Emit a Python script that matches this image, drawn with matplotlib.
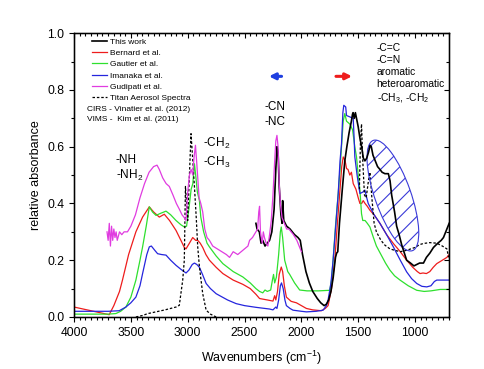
import numpy as np
import matplotlib
matplotlib.use("Agg")
import matplotlib.pyplot as plt
from matplotlib.patches import Ellipse
from matplotlib.transforms import ScaledTranslation
from matplotlib.ticker import MultipleLocator

plt.rcParams['font.family'] = ['Liberation Sans', 'DejaVu Sans']
plt.rcParams['mathtext.fontset'] = 'custom'
plt.rcParams['mathtext.rm'] = 'Liberation Sans'
plt.rcParams['mathtext.it'] = 'Liberation Sans:italic'
plt.rcParams['hatch.color'] = '#3a3ad8'
plt.rcParams['hatch.linewidth'] = 0.8

# ---- data (wavenumber, relative absorbance) ----
this_wn = [2400, 2390, 2370, 2355, 2340, 2320, 2300, 2280, 2260, 2240, 2225, 2215, 2205,
           2195, 2180, 2170, 2165, 2155, 2130, 2100, 2060, 2030, 2010, 1990, 1960, 1930,
           1900, 1860, 1830, 1800, 1780, 1760, 1740, 1720, 1700, 1690, 1680, 1665, 1640,
           1618, 1600, 1580, 1560, 1550, 1545, 1535, 1525, 1515, 1500, 1485, 1470, 1455,
           1441, 1425, 1410, 1395, 1385, 1370, 1350, 1330, 1309, 1290, 1265, 1235, 1220,
           1206, 1180, 1162, 1140, 1118, 1090, 1074, 1040, 1010, 985, 960, 926, 900, 870,
           838, 800, 770, 750, 730, 710, 700]
this_ab = [0.33, 0.31, 0.30, 0.26, 0.27, 0.25, 0.26, 0.27, 0.30, 0.38, 0.52, 0.60, 0.58,
           0.46, 0.36, 0.33, 0.41, 0.34, 0.32, 0.31, 0.29, 0.28, 0.27, 0.22, 0.16, 0.12,
           0.09, 0.065, 0.05, 0.04, 0.045, 0.06, 0.09, 0.14, 0.21, 0.225, 0.23, 0.33, 0.45,
           0.55, 0.60, 0.65, 0.69, 0.715, 0.72, 0.70, 0.72, 0.70, 0.67, 0.63, 0.60, 0.56,
           0.55, 0.56, 0.58, 0.605, 0.60, 0.57, 0.55, 0.53, 0.52, 0.51, 0.505, 0.505, 0.48,
           0.43, 0.37, 0.32, 0.29, 0.255, 0.22, 0.20, 0.19, 0.18, 0.185, 0.19, 0.19, 0.21, 0.225,
           0.245, 0.26, 0.27, 0.28, 0.30, 0.32, 0.33]

bernard_wn = [4000, 3691, 3650, 3600, 3574, 3520, 3456, 3397, 3338, 3300, 3250, 3206, 3160,
              3103, 3060, 3030, 3015, 2985, 2956, 2930, 2912, 2890, 2868, 2840, 2809, 2750,
              2691, 2600, 2515, 2450, 2400, 2368, 2300, 2250, 2235, 2225, 2210, 2195, 2177,
              2165, 2150, 2132, 2090, 2044, 2000, 1956, 1900, 1824, 1790, 1765, 1735, 1706,
              1685, 1662, 1645, 1632, 1615, 1603, 1590, 1574, 1560, 1544, 1520, 1500, 1485,
              1470, 1456, 1440, 1420, 1397, 1360, 1309, 1250, 1191, 1130, 1074, 1020, 980,
              956, 930, 900, 870, 840, 809, 760, 720, 700]
bernard_ab = [0.035, 0.008, 0.04, 0.09, 0.13, 0.22, 0.30, 0.352, 0.388, 0.37, 0.352, 0.362, 0.34,
              0.305, 0.27, 0.245, 0.24, 0.26, 0.28, 0.27, 0.27, 0.26, 0.245, 0.22, 0.20, 0.175,
              0.153, 0.13, 0.115, 0.10, 0.08, 0.065, 0.06, 0.056, 0.075, 0.06, 0.09, 0.15, 0.176,
              0.16, 0.11, 0.07, 0.055, 0.05, 0.04, 0.03, 0.025, 0.022, 0.03, 0.04, 0.10, 0.20,
              0.32, 0.44, 0.53, 0.564, 0.55, 0.523, 0.52, 0.50, 0.51, 0.47, 0.45, 0.42, 0.40,
              0.40, 0.41, 0.40, 0.39, 0.376, 0.36, 0.33, 0.29, 0.259, 0.23, 0.20, 0.175, 0.16,
              0.153, 0.155, 0.153, 0.16, 0.175, 0.188, 0.20, 0.21, 0.22]

gautier_wn = [4000, 3700, 3632, 3590, 3544, 3500, 3456, 3420, 3397, 3365, 3338, 3310, 3279,
              3240, 3191, 3150, 3103, 3060, 3029, 3010, 2990, 2970, 2955, 2941, 2930, 2915,
              2897, 2885, 2860, 2830, 2809, 2750, 2691, 2600, 2515, 2450, 2400, 2368, 2340,
              2320, 2300, 2270, 2255, 2245, 2235, 2220, 2200, 2185, 2177, 2165, 2147, 2120,
              2103, 2060, 2015, 1950, 1850, 1750, 1735, 1721, 1700, 1676, 1660, 1647, 1632,
              1618, 1603, 1574, 1550, 1530, 1515, 1500, 1485, 1471, 1460, 1440, 1420, 1397,
              1368, 1340, 1300, 1260, 1221, 1180, 1132, 1060, 985, 920, 860, 779, 700]
gautier_ab = [0.01, 0.01, 0.012, 0.02, 0.035, 0.07, 0.13, 0.20, 0.247, 0.32, 0.388, 0.37, 0.358,
              0.365, 0.373, 0.36, 0.34, 0.325, 0.317, 0.32, 0.38, 0.45, 0.47, 0.54, 0.50, 0.44,
              0.41, 0.352, 0.30, 0.26, 0.247, 0.215, 0.188, 0.16, 0.141, 0.12, 0.10, 0.09, 0.085,
              0.095, 0.09, 0.095, 0.13, 0.15, 0.12, 0.14, 0.22, 0.30, 0.317, 0.28, 0.20, 0.16,
              0.15, 0.12, 0.095, 0.092, 0.092, 0.094, 0.13, 0.20, 0.32, 0.435, 0.52, 0.60, 0.69,
              0.717, 0.69, 0.68, 0.66, 0.60, 0.564, 0.50, 0.447, 0.364, 0.34, 0.34, 0.33, 0.317,
              0.282, 0.25, 0.22, 0.19, 0.165, 0.145, 0.13, 0.11, 0.094, 0.09, 0.092, 0.097, 0.097]

imanaka_wn = [4000, 3700, 3603, 3544, 3500, 3456, 3420, 3397, 3360, 3338, 3320, 3290, 3265,
              3230, 3191, 3150, 3103, 3060, 3015, 2990, 2960, 2941, 2920, 2897, 2870, 2838,
              2800, 2750, 2650, 2574, 2500, 2400, 2280, 2250, 2225, 2215, 2200, 2185, 2175,
              2160, 2145, 2132, 2100, 2074, 2000, 1956, 1870, 1809, 1780, 1765, 1740, 1721,
              1700, 1676, 1660, 1647, 1635, 1627, 1610, 1603, 1544, 1535, 1530, 1510, 1485,
              1460, 1441, 1425, 1412, 1360, 1309, 1250, 1191, 1130, 1074, 1030, 985, 940, 897,
              860, 830, 809, 750, 700]
imanaka_ab = [0.02, 0.02, 0.022, 0.035, 0.05, 0.07, 0.11, 0.153, 0.22, 0.247, 0.25, 0.235, 0.223,
              0.22, 0.218, 0.20, 0.182, 0.168, 0.155, 0.165, 0.185, 0.19, 0.185, 0.175, 0.15, 0.118,
              0.10, 0.082, 0.06, 0.047, 0.04, 0.034, 0.028, 0.025, 0.035, 0.03, 0.06, 0.11, 0.12,
              0.10, 0.06, 0.04, 0.03, 0.024, 0.02, 0.018, 0.02, 0.024, 0.04, 0.06, 0.12, 0.20,
              0.31, 0.435, 0.55, 0.61, 0.72, 0.746, 0.74, 0.71, 0.70, 0.62, 0.565, 0.50, 0.435,
              0.44, 0.447, 0.42, 0.40, 0.36, 0.33, 0.29, 0.247, 0.20, 0.159, 0.135, 0.118, 0.108, 0.106,
              0.11, 0.125, 0.13, 0.13, 0.13]

gudipati_wn = [3710, 3700, 3690, 3680, 3670, 3660, 3650, 3640, 3630, 3620, 3600, 3580, 3560,
               3530, 3500, 3460, 3420, 3380, 3340, 3300, 3270, 3250, 3220, 3190, 3162, 3130,
               3100, 3074, 3050, 3030, 3015, 3000, 2985, 2970, 2955, 2945, 2932, 2920, 2900,
               2885, 2868, 2850, 2830, 2809, 2780, 2740, 2700, 2660, 2632, 2600, 2560, 2530,
               2500, 2470, 2456, 2430, 2400, 2385, 2375, 2368, 2360, 2345, 2335, 2325, 2310,
               2295, 2280, 2265, 2250, 2235, 2225, 2215, 2205, 2195, 2185, 2170, 2150, 2130,
               2110, 2090, 2070, 2040, 2020, 2000]
gudipati_ab = [0.30, 0.27, 0.33, 0.25, 0.32, 0.27, 0.31, 0.28, 0.30, 0.27, 0.30, 0.29, 0.30,
               0.30, 0.32, 0.36, 0.42, 0.47, 0.51, 0.53, 0.535, 0.52, 0.49, 0.47, 0.46, 0.43,
               0.40, 0.38, 0.36, 0.35, 0.34, 0.44, 0.50, 0.52, 0.50, 0.56, 0.605, 0.54, 0.42,
               0.40, 0.37, 0.31, 0.28, 0.27, 0.25, 0.24, 0.23, 0.22, 0.21, 0.23, 0.22, 0.23,
               0.24, 0.25, 0.27, 0.28, 0.30, 0.31, 0.37, 0.39, 0.30, 0.26, 0.30, 0.28, 0.26,
               0.25, 0.29, 0.34, 0.43, 0.55, 0.62, 0.64, 0.60, 0.47, 0.40, 0.35, 0.33, 0.31,
               0.31, 0.30, 0.29, 0.27, 0.25, 0.23]

# Titan aerosol spectra: CIRS part (CH stretch) and VIMS part
titan1_wn = [3456, 3400, 3350, 3280, 3200, 3103, 3074, 3044, 3030, 3020, 3010, 3000, 2985,
             2971, 2960, 2941, 2925, 2912, 2897, 2868, 2838, 2800, 2750]
titan1_ab = [0.0, 0.005, 0.012, 0.018, 0.025, 0.035, 0.041, 0.13, 0.20, 0.46, 0.40, 0.34, 0.50,
             0.646, 0.58, 0.46, 0.35, 0.247, 0.176, 0.082, 0.024, 0.01, 0.0]
titan2_wn = [1490, 1480, 1471, 1460, 1445, 1430, 1410, 1397, 1380, 1360, 1340, 1300, 1265,
             1221, 1180, 1130, 1074, 1000, 960, 926, 870, 809, 760, 720, 705]
titan2_ab = [0.45, 0.62, 0.68, 0.55, 0.43, 0.42, 0.48, 0.51, 0.42, 0.33, 0.30, 0.27, 0.253,
             0.24, 0.235, 0.23, 0.235, 0.245, 0.255, 0.259, 0.262, 0.26, 0.25, 0.24, 0.21]

labels = ["This work", "Bernard et al.", "Gautier et al.", "Imanaka et al.",
          "Gudipati et al.", "Titan Aerosol Spectra"]
colors = ["black", "#ee1c1c", "#2ee02e", "#2525dd", "#e03ce0", "black"]

fig = plt.figure(figsize=(4.84, 3.69), dpi=100)
ax = fig.add_axes([0.153, 0.141, 0.775, 0.769])

ax.plot(this_wn, this_ab, color=colors[0], lw=1.2, label=labels[0], zorder=3)
ax.plot(bernard_wn, bernard_ab, color=colors[1], lw=0.9, label=labels[1])
ax.plot(gautier_wn, gautier_ab, color=colors[2], lw=0.9, label=labels[2])
ax.plot(imanaka_wn, imanaka_ab, color=colors[3], lw=0.9, label=labels[3])
ax.plot(gudipati_wn, gudipati_ab, color=colors[4], lw=0.9, label=labels[4], zorder=4)
ax.plot(titan1_wn, titan1_ab, color=colors[5], lw=0.9, ls=(0, (2, 1.5)), label=labels[5])
ax.plot(titan2_wn, titan2_ab, color=colors[5], lw=0.9, ls=(0, (2, 1.5)))

# hatched region around the 1400-1000 band (size in inches, centre in data units)
ell = Ellipse((0, 0), width=1.17, height=0.36, angle=-70.5,
              transform=fig.dpi_scale_trans + ScaledTranslation(1195, 0.428, ax.transData),
              facecolor='none', edgecolor='#3a3ad8', hatch='//', lw=0.8, zorder=2)
ax.add_patch(ell)

# arrows
ax.annotate("", xy=(2310, 0.848), xytext=(2150, 0.848),
            arrowprops=dict(arrowstyle='-|>', color='#1f3fe0', lw=2.2, mutation_scale=9))
ax.annotate("", xy=(1530, 0.848), xytext=(1720, 0.848),
            arrowprops=dict(arrowstyle='-|>', color='#ee1c1c', lw=2.2, mutation_scale=9))

# band labels
ax.text(3632, 0.552, "-NH", fontsize=8.5, va='center')
ax.text(3632, 0.497, "-NH$_2$", fontsize=8.5, va='center')
ax.text(2868, 0.61, "-CH$_2$", fontsize=8.5, va='center')
ax.text(2868, 0.546, "-CH$_3$", fontsize=8.5, va='center')
ax.text(2324, 0.74, "-CN", fontsize=8.5, va='center')
ax.text(2324, 0.687, "-NC", fontsize=8.5, va='center')
ax.text(1338, 0.966, "-C=C\n-C=N\naromatic\nheteroaromatic\n-CH$_3$, -CH$_2$",
        fontsize=7.4, va='top', linespacing=1.25)

leg = ax.legend(loc='upper left', bbox_to_anchor=(0.048, 0.984), frameon=False,
                fontsize=6.0, handlelength=1.85, handletextpad=0.3, labelspacing=0.42,
                borderpad=0, borderaxespad=0)
ax.text(0.034, 0.731, "CIRS - Vinatier et al. (2012)", transform=ax.transAxes,
        fontsize=6.0, va='center')
ax.text(0.034, 0.696, "VIMS -  Kim et al. (2011)", transform=ax.transAxes,
        fontsize=6.0, va='center')

ax.set_xlim(4000, 700)
ax.set_ylim(0, 1.0)
ax.xaxis.set_major_locator(MultipleLocator(500))
ax.xaxis.set_minor_locator(MultipleLocator(50))
ax.yaxis.set_major_locator(MultipleLocator(0.2))
ax.yaxis.set_minor_locator(MultipleLocator(0.1))
ax.yaxis.set_major_formatter(plt.FormatStrFormatter('%.1f'))
ax.tick_params(which='both', direction='out', labelsize=8.7, width=0.8)
ax.tick_params(which='major', length=3.5)
ax.tick_params(which='minor', length=2)
for s in ax.spines.values():
    s.set_linewidth(1.0)

# inward ticks on top and right
ax2 = ax.twiny()
ax2.set_xlim(ax.get_xlim())
ax2.xaxis.set_major_locator(MultipleLocator(500))
ax2.xaxis.set_minor_locator(MultipleLocator(50))
ax2.tick_params(which='both', direction='in', labeltop=False, width=0.8)
ax2.tick_params(which='major', length=3.5)
ax2.tick_params(which='minor', length=2)
ax3 = ax.twinx()
ax3.set_ylim(ax.get_ylim())
ax3.yaxis.set_major_locator(MultipleLocator(0.2))
ax3.yaxis.set_minor_locator(MultipleLocator(0.1))
ax3.tick_params(which='both', direction='in', labelright=False, width=0.8)
ax3.tick_params(which='major', length=3.5)
ax3.tick_params(which='minor', length=2.5)

ax.set_xlabel("Wavenumbers (cm$^{-1}$)", fontsize=9, labelpad=7)
ax.set_ylabel("relative absorbance", fontsize=9, labelpad=4)

fig.savefig("out.png", dpi=100)
